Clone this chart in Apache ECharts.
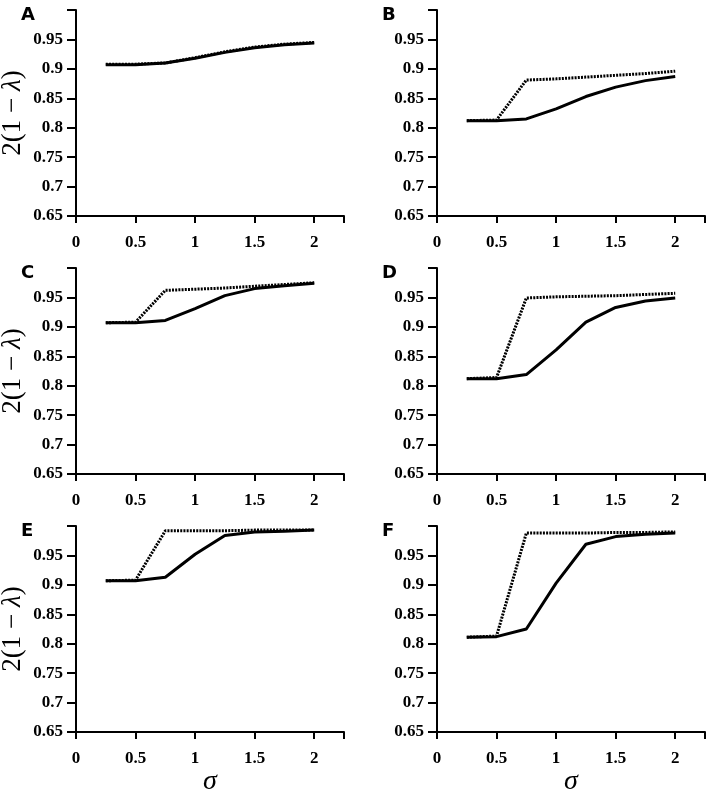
<!DOCTYPE html>
<html>
<head>
<meta charset="utf-8">
<script src="https://cdn.jsdelivr.net/npm/echarts@6/dist/echarts.min.js"></script>
<style>
  html, body { margin: 0; padding: 0; background: #fff; }
  #chart { width: 709px; height: 798px; }
</style>
</head>
<body>
<div id="chart"></div>
<script>
// sigma values (x)
var sigma = [0.25, 0.5, 0.75, 1, 1.25, 1.5, 1.75, 2];
var xTicks = [0, 0.5, 1, 1.5, 2];
var yTicks = [0.65, 0.7, 0.75, 0.8, 0.85, 0.9, 0.95];
var panelNames = ['A', 'B', 'C', 'D', 'E', 'F'];

// solid / dotted curves for each panel
var solidA = [0.907, 0.907, 0.910, 0.918, 0.928, 0.936, 0.941, 0.944];
var dottedA = [0.908, 0.908, 0.910, 0.919, 0.929, 0.937, 0.942, 0.945];
var solidB = [0.812, 0.812, 0.815, 0.832, 0.853, 0.869, 0.880, 0.887];
var dottedB = [0.812, 0.813, 0.881, 0.883, 0.886, 0.889, 0.892, 0.896];
var solidC = [0.907, 0.907, 0.911, 0.931, 0.953, 0.965, 0.970, 0.974];
var dottedC = [0.907, 0.908, 0.962, 0.964, 0.966, 0.969, 0.972, 0.975];
var solidD = [0.812, 0.812, 0.819, 0.861, 0.908, 0.933, 0.944, 0.949];
var dottedD = [0.812, 0.814, 0.949, 0.951, 0.952, 0.953, 0.955, 0.957];
var solidE = [0.907, 0.907, 0.913, 0.952, 0.984, 0.990, 0.991, 0.993];
var dottedE = [0.907, 0.908, 0.992, 0.992, 0.992, 0.993, 0.993, 0.993];
var solidF = [0.811, 0.812, 0.825, 0.903, 0.969, 0.982, 0.986, 0.988];
var dottedF = [0.811, 0.813, 0.988, 0.988, 0.988, 0.989, 0.989, 0.990];

var solids = [solidA, solidB, solidC, solidD, solidE, solidF];
var dotteds = [dottedA, dottedB, dottedC, dottedD, dottedE, dottedF];

var chart = echarts.init(document.getElementById('chart'));

var lefts = [76, 437];
var tops = [10, 268, 526];
var gw = 268, gh = 206;

var grids = [], xAxes = [], yAxes = [], series = [], titles = [];

function pairs (ys) {
  return sigma.map(function (s, i) { return [s, ys[i]]; });
}

for (var i = 0; i < 6; i++) {
  var col = i % 2, row = Math.floor(i / 2);
  grids.push({ left: lefts[col], top: tops[row], width: gw, height: gh, outerBoundsMode: 'none', containLabel: false });
  titles.push({
    text: panelNames[i],
    left: col === 0 ? 16 : 377,
    top: tops[row] - 9,
    textStyle: { fontFamily: 'DejaVu Sans', fontWeight: 'bold', fontSize: 18, color: '#000' }
  });
  xAxes.push({
    gridIndex: i,
    type: 'value',
    min: 0,
    max: 2.25,
    interval: 0.5,
    splitLine: { show: false },
    axisLine: { onZero: false, lineStyle: { color: '#000', width: 2 } },
    axisTick: { show: true, length: 7, lineStyle: { color: '#000', width: 2 } },
    axisLabel: {
      customValues: xTicks, margin: 18, color: '#000',
      fontFamily: 'Liberation Serif', fontSize: 17, fontWeight: 'bold'
    },
    name: row === 2 ? '{s|σ}' : '',
    nameLocation: 'middle',
    nameGap: 33,
    nameTextStyle: { rich: { s: { fontFamily: 'Liberation Serif', fontStyle: 'italic', fontSize: 28, color: '#000' } } }
  });
  yAxes.push({
    gridIndex: i,
    type: 'value',
    min: 0.65,
    max: 1.0,
    interval: 0.05,
    splitLine: { show: false },
    axisLine: { onZero: false, lineStyle: { color: '#000', width: 2 } },
    axisTick: { show: true, length: 9, lineStyle: { color: '#000', width: 2 } },
    axisLabel: {
      customValues: yTicks, margin: 13, color: '#000',
      fontFamily: 'Liberation Serif', fontSize: 17, fontWeight: 'bold'
    },
    name: col === 0 ? '{n|2(1 − }{l|λ}{n|)}' : '',
    nameLocation: 'middle',
    nameGap: 50,
    nameTextStyle: {
      rich: {
        n: { fontFamily: 'Liberation Serif', fontSize: 27, color: '#000' },
        l: { fontFamily: 'Liberation Serif', fontStyle: 'italic', fontSize: 27, color: '#000' }
      }
    }
  });
  series.push({
    type: 'line',
    xAxisIndex: i,
    yAxisIndex: i,
    data: pairs(solids[i]),
    symbol: 'none',
    lineStyle: { color: '#000', width: 3, type: 'solid' }
  });
  series.push({
    type: 'line',
    xAxisIndex: i,
    yAxisIndex: i,
    data: pairs(dotteds[i]),
    symbol: 'none',
    lineStyle: { color: '#000', width: 3, type: [2, 1.2] }
  });
}

chart.setOption({
  backgroundColor: '#fff',
  animation: false,
  title: titles,
  grid: grids,
  xAxis: xAxes,
  yAxis: yAxes,
  series: series
});
</script>
</body>
</html>
